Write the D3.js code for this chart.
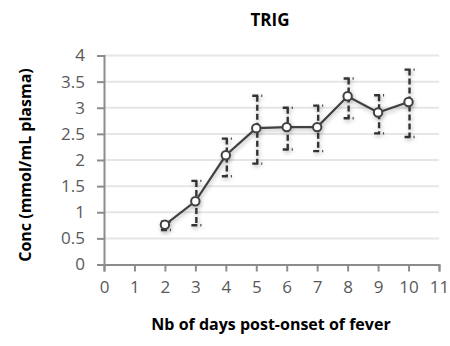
<!DOCTYPE html>
<html>
<head>
<meta charset="utf-8">
<script src="https://cdn.jsdelivr.net/npm/d3@7"></script>
<style>
  html, body { margin: 0; padding: 0; background: #fff; }
  svg { display: block; font-family: "Open Sans", "Liberation Sans", sans-serif; }
</style>
</head>
<body>
<svg id="chart" width="450" height="346"></svg>
<script>
// Triglyceride concentration by day after fever onset (mean with error range)
const days  = [2, 3, 4, 5, 6, 7, 8, 9, 10];
const means = [0.76, 1.21, 2.09, 2.61, 2.63, 2.63, 3.22, 2.91, 3.11];
const upper = [0.82, 1.60, 2.41, 3.23, 3.00, 3.04, 3.56, 3.24, 3.73];
const lower = [0.66, 0.75, 1.69, 1.93, 2.20, 2.17, 2.80, 2.51, 2.44];
const xTicks = [0, 1, 2, 3, 4, 5, 6, 7, 8, 9, 10, 11];
const yTicks = [0, 0.5, 1, 1.5, 2, 2.5, 3, 3.5, 4];

const svg = d3.select("#chart");
const x = d3.scaleLinear().domain([0, 11]).range([104, 439]);
const y = d3.scaleLinear().domain([0, 4]).range([264.5, 55.5]);

// horizontal gridlines
svg.append("g").selectAll("line").data(yTicks.filter(d => d > 0)).join("line")
  .attr("x1", x(0)).attr("x2", x(11))
  .attr("y1", d => y(d)).attr("y2", d => y(d))
  .attr("stroke", "#e6e6e6").attr("stroke-width", 2);

// y axis
const yAxis = svg.append("g").attr("transform", `translate(${x(0)},0)`)
  .call(d3.axisLeft(y).tickValues(yTicks).tickSize(7).tickPadding(12)
    .tickFormat(d => String(d)));
yAxis.select(".domain").attr("stroke", "#8c8c8c").attr("stroke-width", 2);
yAxis.selectAll(".tick line").attr("stroke", "#8c8c8c").attr("stroke-width", 2);
yAxis.selectAll("text").attr("fill", "#595959").attr("font-size", 17)
  .attr("font-family", "Open Sans, Liberation Sans, sans-serif");

// x axis
const xAxis = svg.append("g").attr("transform", `translate(0,${y(0)})`)
  .call(d3.axisBottom(x).tickValues(xTicks).tickSize(7).tickPadding(9)
    .tickFormat(d => String(d)));
xAxis.select(".domain").attr("stroke", "#8c8c8c").attr("stroke-width", 2);
xAxis.selectAll(".tick line").attr("stroke", "#8c8c8c").attr("stroke-width", 2);
xAxis.selectAll("text").attr("fill", "#595959").attr("font-size", 17)
  .attr("font-family", "Open Sans, Liberation Sans, sans-serif");

// soft shadow under the series
const defs = svg.append("defs");
const f = defs.append("filter").attr("id", "shadow")
  .attr("x", "-20%").attr("y", "-20%").attr("width", "140%").attr("height", "140%");
f.append("feGaussianBlur").attr("in", "SourceAlpha").attr("stdDeviation", 2).attr("result", "b");
f.append("feOffset").attr("in", "b").attr("dx", 1).attr("dy", 2).attr("result", "o");
f.append("feComponentTransfer").attr("in", "o").attr("result", "s")
  .append("feFuncA").attr("type", "linear").attr("slope", 0.3);
const m = f.append("feMerge");
m.append("feMergeNode").attr("in", "s");
m.append("feMergeNode").attr("in", "SourceGraphic");

const pts = days.map((d, i) => ({ d, m: means[i], hi: upper[i], lo: lower[i] }));
const series = svg.append("g").attr("filter", "url(#shadow)");

// error bars (dashed stems and caps)
const eb = series.append("g").selectAll("g").data(pts).join("g");
eb.append("line")
  .attr("x1", p => x(p.d) + 1).attr("x2", p => x(p.d) + 1)
  .attr("y1", p => y(p.hi)).attr("y2", p => y(p.lo))
  .attr("stroke", "#333").attr("stroke-width", 2.4).attr("stroke-dasharray", "6,3");
["hi", "lo"].forEach(k => {
  eb.append("line")
    .attr("x1", p => x(p.d) - 4).attr("x2", p => x(p.d) + 6)
    .attr("y1", p => y(p[k])).attr("y2", p => y(p[k]))
    .attr("stroke", "#333").attr("stroke-width", 2.4).attr("stroke-dasharray", "6,3");
});

// mean line
series.append("path").datum(pts)
  .attr("d", d3.line().x(p => x(p.d)).y(p => y(p.m)))
  .attr("fill", "none").attr("stroke", "#404040").attr("stroke-width", 2.2);

// markers
series.append("g").selectAll("circle").data(pts).join("circle")
  .attr("cx", p => x(p.d)).attr("cy", p => y(p.m)).attr("r", 4.2)
  .attr("fill", "#fff").attr("stroke", "#404040").attr("stroke-width", 2);

// titles
svg.append("text").attr("x", 270).attr("y", 26).attr("text-anchor", "middle")
  .attr("font-size", 17).attr("font-weight", "bold").attr("fill", "#000").text("TRIG");
svg.append("text").attr("x", 271).attr("y", 330).attr("text-anchor", "middle")
  .attr("font-size", 16).attr("font-weight", "bold").attr("fill", "#000")
  .text("Nb of days post-onset of fever");
svg.append("text").attr("transform", "translate(31,165) rotate(-90)")
  .attr("text-anchor", "middle").attr("font-size", 16).attr("font-weight", "bold")
  .attr("fill", "#000").text("Conc (mmol/mL plasma)");
</script>
</body>
</html>
